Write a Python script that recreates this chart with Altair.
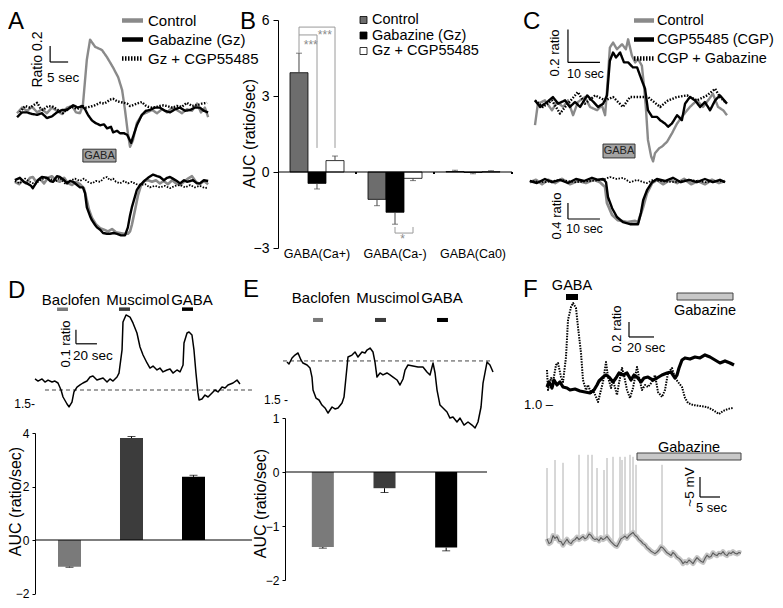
import altair as alt
import pandas as pd

FONT = "Liberation Sans"
M = 8  # page margin: view origin sits at page (8, 8)

# =================== DATA ===================
# ---- Panel A: ratio change vs time (s) ----
A_SERIES = ["Control", "Gabazine (Gz)", "Gz + CGP55485"]
A_TOP = {
    "Control": [(0,-0.04),(1.4,0.03),(2.8,-0.01),(4.2,0.04),(5.6,-0.03),(6.9,0.01),(8.3,-0.04),(9.7,0.03),(11.1,-0.01),(12.5,-0.05),(13.9,0.03),(15.3,0.05),(16.4,-0.03),(17.5,-0.04),(18.3,0.06),(19.4,0.63),(20.3,0.88),(21.7,0.79),(23.6,0.75),(25.0,0.66),(26.7,0.53),(28.1,0.41),(29.2,0.25),(30.0,0.0),(30.8,-0.29),(31.4,-0.46),(32.2,-0.38),(33.3,-0.16),(34.7,-0.06),(36.1,-0.03),(37.5,0.0),(38.9,-0.04),(40.3,0.01),(41.7,-0.03),(43.1,0.03),(44.4,0.0),(45.8,-0.04),(47.2,0.01),(48.6,-0.01),(50.0,0.08),(51.1,-0.03),(52.2,0.03),(53.1,-0.09)],
    "Gabazine (Gz)": [(0,-0.09),(1.4,-0.03),(2.8,-0.03),(4.2,-0.05),(5.6,-0.06),(6.9,-0.04),(8.3,-0.10),(9.7,-0.08),(11.1,-0.03),(12.5,0.0),(13.9,0.0),(15.6,0.06),(16.9,0.03),(18.1,0.05),(18.9,0.01),(19.7,-0.06),(20.8,-0.13),(21.7,-0.16),(23.1,-0.19),(24.2,-0.18),(25.0,-0.23),(26.1,-0.21),(26.7,-0.28),(27.8,-0.26),(28.6,-0.29),(29.7,-0.29),(30.6,-0.31),(31.7,-0.41),(32.2,-0.34),(33.3,-0.19),(34.7,-0.06),(35.8,-0.01),(36.9,0.0),(38.3,0.03),(39.7,0.03),(41.1,-0.01),(42.5,-0.03),(43.9,0.01),(45.3,0.03),(46.7,-0.01),(48.1,0.0),(49.4,0.03),(50.8,0.03),(51.9,-0.01),(53.1,-0.03)],
    "Gz + CGP55485": [(0.8,-0.03),(2.2,0.05),(3.6,0.03),(5.6,0.09),(6.4,0.03),(7.2,0.0),(8.6,0.05),(10.0,0.04),(11.4,0.0),(12.8,-0.04),(13.6,0.0),(15.3,0.04),(16.7,0.01),(18.1,0.05),(19.2,0.03),(20.3,0.04),(21.7,0.06),(23.1,0.09),(24.2,0.08),(25.0,0.10),(25.8,0.13),(26.7,0.14),(27.8,0.11),(28.6,0.10),(29.7,0.09),(30.6,0.08),(31.4,0.05),(32.2,0.06),(33.3,0.08),(34.7,0.10),(35.6,0.06),(36.4,0.04),(37.5,0.03),(38.9,0.04),(40.3,0.06),(41.7,0.05),(43.1,0.03),(44.4,0.05),(45.8,0.04),(47.2,0.09),(48.6,0.05),(50.0,0.06),(51.4,0.08),(52.8,0.09)],
}
A_BOT = {
    "Control": [(-0.6,-0.01),(0.6,-0.04),(1.4,0.01),(2.5,-0.03),(3.6,0.04),(4.4,0.05),(5.3,-0.01),(6.4,0.03),(7.5,-0.03),(8.6,0.04),(9.7,0.06),(10.8,0.01),(11.9,-0.01),(13.1,0.04),(14.2,-0.03),(15.3,-0.05),(16.4,-0.01),(17.5,-0.04),(18.6,-0.09),(19.2,-0.20),(20.0,-0.36),(20.8,-0.46),(21.9,-0.54),(23.1,-0.59),(24.2,-0.61),(25.3,-0.63),(26.4,-0.60),(27.5,-0.64),(28.6,-0.65),(29.7,-0.66),(30.8,-0.66),(31.4,-0.63),(31.9,-0.55),(32.8,-0.36),(33.6,-0.18),(34.4,-0.06),(35.3,0.0),(36.4,0.01),(37.5,-0.01),(38.6,0.01),(39.7,-0.03),(40.8,0.0),(41.9,-0.04),(43.1,0.01),(44.2,-0.03),(45.3,-0.05),(46.4,-0.01),(47.5,0.03),(48.6,0.06),(49.7,-0.01),(50.8,-0.04),(51.9,0.0),(53.1,-0.04)],
    "Gabazine (Gz)": [(-0.6,0.01),(0.8,0.04),(1.9,-0.01),(2.8,-0.03),(3.9,-0.06),(4.4,-0.09),(5.8,0.01),(6.9,0.05),(8.3,0.04),(9.2,0.0),(10.0,-0.01),(11.1,0.06),(11.9,0.05),(13.1,0.01),(13.9,-0.03),(14.7,0.0),(15.6,-0.01),(16.7,-0.05),(17.5,-0.08),(18.3,-0.08),(18.9,-0.15),(19.4,-0.33),(20.3,-0.44),(20.8,-0.49),(21.7,-0.55),(22.2,-0.58),(23.1,-0.61),(23.9,-0.65),(25.0,-0.66),(25.8,-0.66),(26.9,-0.65),(27.8,-0.66),(28.9,-0.68),(30.0,-0.68),(30.8,-0.58),(31.4,-0.43),(31.9,-0.33),(32.8,-0.19),(33.3,-0.11),(34.2,-0.05),(34.7,-0.03),(35.6,0.01),(36.4,0.04),(37.8,0.08),(38.9,0.06),(39.7,0.05),(40.8,0.01),(41.7,0.04),(42.5,0.05),(43.3,0.03),(44.4,0.0),(45.3,-0.03),(46.4,0.01),(47.2,-0.01),(48.1,0.0),(48.9,0.01),(50.0,-0.03),(50.8,-0.03),(51.9,0.01),(53.1,0.0)],
    "Gz + CGP55485": [(-0.6,0.0),(0.8,-0.03),(2.2,0.03),(3.6,-0.01),(5.0,-0.04),(6.4,0.01),(7.8,0.04),(9.2,0.03),(10.6,-0.01),(11.9,0.04),(13.3,-0.03),(14.7,0.0),(16.1,0.03),(17.5,0.0),(18.6,0.03),(19.7,-0.01),(20.8,-0.03),(21.9,0.0),(23.1,-0.01),(24.2,0.04),(25.0,0.05),(25.8,0.01),(26.7,0.03),(27.5,-0.01),(28.6,-0.03),(29.7,0.0),(30.8,-0.03),(31.9,-0.01),(33.1,-0.04),(34.2,-0.05),(35.6,-0.04),(36.9,-0.08),(38.3,-0.06),(39.7,-0.08),(41.1,-0.06),(42.5,-0.09),(43.9,-0.06),(45.3,-0.05),(46.7,-0.08),(48.1,-0.05),(49.4,-0.08),(50.8,-0.06),(52.2,-0.09),(53.1,-0.08)],
}
A_GABA = (18.3, 27.5)          # GABA application (s)
A_SCALE = (9.2, 0.6, 5, 0.2)   # scale bar origin (s, ratio), 5 sec, 0.2 ratio

# ---- Panel B: AUC (ratio/sec) ----
B_CATS = ["GABA(Ca+)", "GABA(Ca-)", "GABA(Ca0)"]
B_CONDS = ["Control", "Gabazine (Gz)", "Gz + CGP55485"]
B_MEAN = {"Control": [3.92, -1.08, 0.02], "Gabazine (Gz)": [-0.45, -1.59, -0.02], "Gz + CGP55485": [0.45, -0.25, 0.01]}
B_ERR = {"Control": [4.69, -1.33, 0.07], "Gabazine (Gz)": [-0.67, -2.06, -0.07], "Gz + CGP55485": [0.63, -0.34, 0.05]}
B_TICKS = [6, 3, 0, -3]
# significance brackets: (category, cond1, cond2, y_start1, y_bar, y_end2, label, label_x, label_y)
B_SIG = [
    ("GABA(Ca+)", "Control", "Gabazine (Gz)", 4.70, 5.41, 0.95, "***", 0.42, 4.87),
    ("GABA(Ca+)", "Control", "Gz + CGP55485", 5.41, 5.72, 0.95, "***", 0.60, 5.26),
    ("GABA(Ca-)", "Gabazine (Gz)", "Gz + CGP55485", -2.17, -2.41, -2.17, "*", 1.596, -2.80),
]

# ---- Panel C ----
C_SERIES = ["Control", "CGP55485 (CGP)", "CGP + Gabazine"]
C_TOP = {
    "Control": [(0,-0.14),(0.9,-0.01),(3.1,0.01),(5.3,-0.05),(6.9,0.0),(8.8,-0.03),(10.3,0.01),(11.9,-0.08),(13.4,0.0),(15.6,0.03),(17.2,-0.03),(19.4,-0.05),(20.9,-0.02),(21.9,-0.08),(22.5,0.07),(23.4,0.33),(24.4,0.36),(25.6,0.32),(27.2,0.35),(28.4,0.32),(29.1,0.38),(30.3,0.28),(31.3,0.24),(32.2,0.26),(33.4,0.22),(34.1,0.09),(34.7,-0.05),(35.3,-0.23),(36.3,-0.33),(36.9,-0.36),(37.5,-0.31),(38.8,-0.28),(39.7,-0.27),(41.3,-0.24),(42.8,-0.19),(44.4,-0.13),(46.3,-0.08),(48.4,-0.03),(50.6,0.01),(52.5,-0.03),(54.1,0.01),(55.6,0.05),(57.2,-0.03),(58.8,-0.05),(60.0,-0.08)],
    "CGP55485 (CGP)": [(0,0.01),(1.6,-0.03),(3.8,0.0),(5.6,0.03),(7.2,-0.01),(9.4,0.01),(10.9,-0.03),(12.5,0.0),(14.1,-0.03),(16.3,0.04),(17.8,0.01),(19.7,-0.03),(21.3,-0.01),(22.5,0.04),(23.4,0.25),(24.4,0.30),(25.3,0.27),(26.6,0.30),(27.8,0.24),(29.1,0.24),(30.6,0.21),(31.9,0.21),(33.4,0.13),(34.4,0.08),(35.3,-0.05),(36.6,-0.09),(38.1,-0.09),(39.1,-0.11),(40.6,-0.13),(41.6,-0.15),(42.8,-0.13),(44.4,-0.08),(45.9,-0.11),(46.9,-0.01),(48.4,0.03),(50.0,0.01),(51.6,-0.03),(53.1,0.0),(54.7,-0.05),(56.3,0.01),(57.8,0.04),(59.1,0.01),(60.0,-0.01)],
    "CGP + Gabazine": [(0,0.01),(2.5,-0.03),(5.3,0.01),(7.8,-0.07),(10.3,-0.01),(13.4,0.06),(15.6,-0.01),(18.8,0.04),(21.9,0.01),(24.4,0.03),(27.5,-0.03),(29.7,0.03),(32.2,0.03),(35.3,0.03),(39.1,-0.03),(41.6,0.01),(44.4,0.03),(47.5,0.04),(50.6,0.01),(53.8,0.04),(56.3,0.08),(57.8,0.03),(59.4,0.0)],
}
C_BOT = {
    "Control": [(-1.6,-0.03),(0.3,0.03),(2.2,-0.08),(4.1,0.03),(6.3,-0.05),(8.4,0.05),(10.9,-0.08),(13.4,0.0),(15.9,-0.05),(18.4,0.03),(20.3,-0.03),(21.9,-0.15),(22.5,-0.55),(24.1,-0.85),(25.9,-0.98),(28.8,-1.03),(31.3,-1.0),(32.2,-1.03),(33.8,-0.65),(35.0,-0.30),(36.6,-0.05),(38.1,0.03),(40.0,-0.08),(42.2,0.03),(44.4,-0.05),(46.6,0.05),(48.8,-0.08),(50.9,0.0),(53.1,-0.08),(55.3,0.03),(57.5,-0.05),(59.4,0.0)],
    "CGP55485 (CGP)": [(-1.6,0.0),(0.6,-0.05),(3.1,0.05),(5.3,-0.03),(7.8,0.03),(10.3,-0.05),(12.8,0.05),(15.3,0.0),(17.8,0.08),(19.7,0.03),(21.3,0.05),(22.2,-0.03),(22.8,-0.40),(24.1,-0.68),(25.6,-0.90),(27.5,-1.03),(29.7,-1.08),(32.2,-1.08),(33.1,-0.80),(33.8,-0.48),(35.0,-0.23),(36.6,-0.03),(38.1,0.05),(40.6,0.0),(43.1,0.08),(45.6,-0.03),(48.1,0.03),(50.6,-0.03),(53.1,0.05),(55.6,-0.03),(57.8,0.03),(59.4,-0.03)],
    "CGP + Gabazine": [(-1.6,0.0),(3.1,-0.03),(7.8,0.03),(12.5,-0.03),(17.2,0.0),(21.3,0.03),(23.4,0.10),(25.6,0.05),(27.5,0.08),(29.7,-0.03),(31.9,0.03),(33.8,-0.03),(35.0,-0.05),(36.9,0.03),(39.1,0.0),(43.8,-0.03),(48.4,0.03),(53.1,-0.03),(57.8,0.0),(59.4,-0.03)],
}
C_GABA = (21.25, 31.25)

# ---- Panels D and E ----
DRUGS = ["Baclofen", "Muscimol", "GABA"]
D_TRACE = [(0,1.679),(2.9,1.664),(6.7,1.679),(9.5,1.657),(12.4,1.671),(16.2,1.657),(19.0,1.664),(21.9,1.65),(24.8,1.6),(26.7,1.55),(30.5,1.5),(32.4,1.479),(35.2,1.514),(37.1,1.586),(40.0,1.621),(42.9,1.636),(45.7,1.65),(49.5,1.664),(52.4,1.693),(55.2,1.7),(59.0,1.671),(61.9,1.679),(64.8,1.686),(68.6,1.657),(71.4,1.679),(74.3,1.664),(78.1,1.693),(80.0,1.721),(82.9,1.886),(83.8,2.086),(86.7,2.136),(90.5,2.121),(93.3,2.079),(97.1,2.007),(100.0,1.907),(102.9,1.85),(106.7,1.793),(109.5,1.757),(112.4,1.771),(116.2,1.743),(119.0,1.757),(121.9,1.729),(125.7,1.743),(128.6,1.75),(131.4,1.721),(135.2,1.743),(138.1,1.729),(141.0,1.779),(141.9,1.936),(144.8,2.007),(146.7,2.014),(149.5,1.993),(151.4,1.886),(153.3,1.721),(155.2,1.579),(156.2,1.529),(159.0,1.536),(161.9,1.564),(164.8,1.55),(168.6,1.579),(171.4,1.6),(174.3,1.586),(178.1,1.621),(181.0,1.614),(183.8,1.636),(188.6,1.65),(192.4,1.671),(195.2,1.643)]
D_BASELINE = (9.5, 209.5, 1.6)
D_APPLY = [(21.0, 31.4), (80.0, 90.5), (140.0, 150.5)]
D_LABEL_T = [34.3, 98.1, 149.5]
D_AUC = [-1.0, 3.81, 2.36]
D_AUC_ERR = [-1.02, 3.87, 2.42]

E_TRACE = [(1.9,1.771),(3.8,1.757),(6.7,1.8),(9.5,1.821),(12.4,1.836),(15.2,1.786),(17.1,1.764),(21.0,1.75),(23.8,1.729),(25.7,1.664),(26.7,1.571),(29.5,1.514),(32.4,1.5),(35.2,1.464),(38.1,1.443),(41.0,1.407),(44.8,1.45),(47.6,1.436),(50.5,1.443),(54.3,1.479),(56.2,1.521),(58.1,1.664),(60.0,1.807),(63.8,1.821),(66.7,1.843),(69.5,1.807),(73.3,1.843),(76.2,1.836),(78.1,1.857),(81.0,1.871),(83.8,1.843),(85.7,1.771),(87.6,1.664),(90.5,1.693),(93.3,1.679),(97.1,1.693),(100.0,1.679),(102.9,1.664),(106.7,1.643),(109.5,1.607),(112.4,1.65),(114.3,1.714),(117.1,1.75),(121.9,1.743),(126.7,1.736),(131.4,1.736),(135.2,1.7),(138.1,1.679),(141.0,1.764),(142.9,1.693),(144.8,1.571),(147.6,1.464),(150.5,1.443),(154.3,1.414),(157.1,1.371),(160.0,1.379),(163.8,1.343),(166.7,1.371),(170.5,1.321),(174.3,1.343),(178.1,1.321),(181.0,1.3),(183.8,1.343),(186.7,1.45),(188.6,1.621),(192.4,1.771),(195.2,1.75),(198.1,1.7)]
E_BASELINE = (-1.9, 197.1, 1.779)
E_APPLY = [(26.7, 36.2), (85.7, 96.2), (144.8, 155.2)]
E_LABEL_T = [34.3, 98.1, 149.5]
E_AUC = [-1.39, -0.30, -1.40]
E_AUC_ERR = [-1.41, -0.38, -1.46]

# ---- Panel F ----
F_SOLID = [(0,1.24),(1.6,1.307),(4.0,1.227),(5.6,1.333),(8.0,1.267),(10.4,1.307),(12.8,1.24),(16.0,1.227),(18.4,1.2),(22.4,1.213),(26.4,1.187),(30.4,1.173),(34.4,1.16),(37.6,1.2),(40.0,1.267),(41.6,1.32),(44.8,1.373),(47.2,1.4),(49.6,1.373),(52.8,1.307),(55.2,1.36),(57.6,1.427),(60.8,1.4),(64.0,1.427),(67.2,1.333),(69.6,1.4),(72.0,1.373),(75.2,1.307),(77.6,1.36),(80.8,1.373),(84.8,1.333),(88.0,1.36),(92.0,1.4),(96.0,1.427),(99.2,1.44),(102.4,1.36),(104.0,1.4),(105.6,1.493),(108.0,1.6),(110.4,1.627),(114.4,1.613),(118.4,1.64),(122.4,1.627),(126.4,1.667),(130.4,1.64),(134.4,1.6),(138.4,1.56),(142.4,1.587),(146.4,1.56),(149.6,1.533)]
F_DOTTED = [(0,1.467),(0.8,1.2),(3.2,1.36),(4.8,1.307),(7.2,1.533),(8.8,1.56),(11.2,1.373),(12.8,1.307),(15.2,1.64),(16.8,2.133),(19.2,2.307),(20.8,2.36),(23.2,2.293),(24.8,2.04),(27.2,1.693),(28.8,1.333),(31.2,1.2),(32.8,1.267),(35.2,1.16),(36.8,1.2),(39.2,1.107),(40.8,1.04),(43.2,1.2),(44.8,1.307),(47.2,1.573),(48.8,1.373),(51.2,1.227),(52.8,1.333),(56.0,1.133),(57.6,1.293),(60.0,1.493),(61.6,1.4),(64.0,1.2),(66.4,1.093),(68.8,1.227),(72.0,1.507),(73.6,1.373),(76.0,1.2),(78.4,1.267),(80.8,1.24),(84.0,1.307),(86.4,1.4),(88.8,1.173),(92.0,1.107),(94.4,1.2),(96.8,1.427),(100.0,1.493),(102.4,1.36),(104.8,1.307),(108.0,1.24),(110.4,1.093),(112.8,1.027),(116.8,1.0),(122.4,0.987),(128.0,0.973),(132.8,0.933),(137.6,0.88),(140.8,0.92),(144.8,0.947),(148.8,0.96)]
F_GABA = (15.2, 24.8)
F_GBZ = (104.0, 148.8)
# membrane potential (mV, relative), sampled every 0.5 s
F_VM_DT = 0.5
F_VM = [0.3,-0.9,-0.6,1.1,0.4,0.8,-0.3,-0.4,-1.3,-0.5,0.2,-0.6,-0.9,-0.2,0.1,0.7,0.1,0.5,0.9,0.3,0.6,1.5,1.2,0.4,0.1,0.3,-0.2,0.6,0.1,0.4,0.9,0.2,-0.4,-0.9,-1.4,-1.6,-0.7,0.3,0.6,1.0,0.4,1.1,1.5,1.9,1.2,0.8,0.1,-0.3,-0.9,-1.2,-1.9,-2.3,-2.8,-3.1,-3.4,-3.0,-2.5,-1.7,-2.0,-2.6,-3.2,-3.5,-3.9,-3.1,-3.6,-4.3,-4.6,-5.1,-5.9,-5.4,-5.7,-5.0,-5.4,-5.9,-5.1,-4.4,-4.9,-5.3,-5.6,-4.6,-3.8,-4.3,-4.1,-3.2,-3.7,-3.9,-3.3,-3.5,-2.9,-3.6,-3.9,-3.2,-3.4,-2.9,-3.3,-3.5,-3.1,-3.3]
# spikes: (time s, base mV, peak mV)
F_SPIKES = [(0.0,0.3,18.0),(2.0,0.4,20.0),(4.0,-1.3,19.3),(8.0,0.1,21.3),(10.25,1.5,21.3),(11.25,0.4,21.3),(12.5,0.3,18.0),(14.25,0.6,17.5),(15.0,0.9,20.5),(16.5,-0.9,20.8),(18.25,0.3,20.8),(18.75,0.6,20.0),(19.5,1.0,20.8),(20.75,1.1,21.3),(21.5,1.9,20.8),(22.25,0.8,18.8),(28.75,-2.0,18.8)]
F_GBZ2 = (22.5, 48.5)

# =================== LAYOUT FRAMES (domain -> page pixels) ===================
FR = {
    "A_top": ((0, 54), (17, 211.4), (-0.7, 1.0), (166, 30)),
    "A_bot": ((0, 54), (17, 211.4), (-0.8, 0.2), (245, 165)),
    "B_q":   ((0, 3), (278, 512), (-3, 6), (248, 20)),
    "C_top": ((0, 60), (535, 727), (-0.4, 0.45), (168, 27.75)),
    "C_bot": ((0, 60), (535, 727), (-1.2, 0.2), (229, 173)),
    "D_tr":  ((0, 210), (35, 255.5), (1.45, 2.2), (411, 306)),
    "D_ax":  ((0, 1), (35, 252), (-2, 4), (593.5, 433)),
    "E_tr":  ((0, 210), (285, 505.5), (1.25, 1.9), (435, 344)),
    "E_ax":  ((0, 1), (285, 487), (-2, 1), (580, 418)),
    "F_top": ((0, 150), (547, 734.5), (0.85, 2.5), (416.25, 292.5)),
    "F_bot": ((0, 50), (547, 747), (-8, 23), (572, 448)),
}
GRAY = "#8a8a8a"
DRUG_COLORS = ["#7a7a7a", "#3c3c3c", "#000000"]


def sc(dom, px):
    return alt.Scale(domain=list(dom), range=[px[0] - M, px[1] - M], nice=False, zero=False)


def fx(f, field="t"):
    d = FR[f]
    return alt.X(f"{field}:Q", scale=sc(d[0], d[1]), axis=None)


def fy(f, field="r", axis=None):
    d = FR[f]
    return alt.Y(f"{field}:Q", scale=sc(d[2], d[3]), axis=axis)


def df_pairs(pairs):
    return pd.DataFrame(pairs, columns=["t", "r"])


def trace(pairs, f, color, width, dash=None):
    kw = dict(color=color, strokeWidth=width, strokeJoin="round")
    if dash:
        kw["strokeDash"] = dash
    return alt.Chart(df_pairs(pairs)).mark_line(**kw).encode(x=fx(f), y=fy(f))


def segs(rows, f, color="black", width=1.2, dash=None):
    d = pd.DataFrame(rows, columns=["t", "t2", "r", "r2"])
    kw = dict(color=color, strokeWidth=width)
    if dash:
        kw["strokeDash"] = dash
    return alt.Chart(d).mark_rule(**kw).encode(x=fx(f), x2="t2:Q", y=fy(f), y2="r2:Q")


def rects(rows, f, fill, stroke=None, width=1.0):
    d = pd.DataFrame(rows, columns=["t", "t2", "r", "r2"])
    kw = dict(fill=fill)
    if stroke:
        kw.update(stroke=stroke, strokeWidth=width)
    return alt.Chart(d).mark_rect(**kw).encode(x=fx(f), x2="t2:Q", y=fy(f), y2="r2:Q")


def texts(rows, f, size, align="left", baseline="alphabetic", angle=0, color="black"):
    d = pd.DataFrame(rows, columns=["t", "r", "label"])
    kw = dict(fontSize=size, align=align, baseline=baseline, color=color)
    if angle:
        kw["angle"] = angle
    return alt.Chart(d).mark_text(**kw).encode(x=fx(f), y=fy(f), text="label:N")


def scalebar(f, t0, r0, dt, dr):
    return segs([(t0, t0, r0, r0 + dr), (t0, t0 + dt, r0, r0)], f, width=1.2)


def letter(ch, px, py):
    return alt.Chart(pd.DataFrame({"l": [ch]})).mark_text(
        fontSize=24, align="left", baseline="alphabetic").encode(
        x=alt.value(px - M), y=alt.value(py - M), text="l:N")


def series_df(d, order):
    rows = []
    for s in order:
        for t, r in d[s]:
            rows.append({"s": s, "t": t, "r": r})
    return pd.DataFrame(rows)


def line_legend(domain, lx, ly, half, label_offset, size=15):
    return alt.Legend(orient="none", legendX=lx, legendY=ly, title=None,
                      symbolType=f"M-{half},0H{half}", symbolSize=100,
                      symbolStrokeWidth=4.5, labelFontSize=size, labelOffset=label_offset,
                      rowPadding=0, padding=0, symbolOffset=0, labelLimit=400,
                      labelColor="black", labelFont=FONT)


layers = []

# =================== PANEL A ===================
legA = line_legend(A_SERIES, 117, 5, 2.1, 8)
layers.append(
    alt.Chart(series_df(A_TOP, A_SERIES)).mark_line(strokeWidth=2.4, strokeJoin="round").encode(
        x=fx("A_top"), y=fy("A_top"),
        color=alt.Color("s:N", scale=alt.Scale(domain=A_SERIES, range=[GRAY, "black", "black"]), legend=legA),
        strokeDash=alt.StrokeDash("s:N", scale=alt.Scale(domain=A_SERIES, range=[[1, 0], [1, 0], [1.5, 1.5]]), legend=legA),
        detail="s:N",
    )
)
layers.append(trace(A_BOT["Control"], "A_bot", GRAY, 2.6))
layers.append(trace(A_BOT["Gabazine (Gz)"], "A_bot", "black", 2.4))
layers.append(trace(A_BOT["Gz + CGP55485"], "A_bot", "black", 1.8, [1.5, 1.5]))
layers.append(rects([(A_GABA[0], A_GABA[1], -0.49, -0.65)], "A_top", "#a3a3a3", "#333333", 1))
layers.append(texts([((A_GABA[0] + A_GABA[1]) / 2, -0.57, "GABA")], "A_top", 11, "center", "middle", color="#222222"))
layers.append(scalebar("A_top", *A_SCALE))
layers.append(texts([(5.83, 0.631, "Ratio 0.2")], "A_top", 14, "center", "middle", angle=270))
layers.append(texts([(8.33, 0.35, "5 sec")], "A_top", 13.5))

# =================== PANEL B ===================
bdf = pd.DataFrame([{"cat": c, "cond": k, "mean": B_MEAN[k][i], "err": B_ERR[k][i]}
                    for k in B_CONDS for i, c in enumerate(B_CATS)])
bx = alt.X("cat:N", scale=alt.Scale(domain=B_CATS, range=[278 - M, 512 - M],
                                    paddingInner=0.3077, paddingOuter=0.1538), axis=None)
bxo = alt.XOffset("cond:N", scale=alt.Scale(domain=B_CONDS, paddingInner=0, paddingOuter=0))
b_ys = sc(FR["B_q"][2], FR["B_q"][3])
b_axis = alt.Axis(orient="left", offset=-(278 - M), values=B_TICKS, tickSize=5, labelPadding=4,
                  labelFontSize=14, grid=False, domainColor="black", tickColor="black",
                  labelColor="black", title="AUC (ratio/sec)", titleFontSize=16,
                  titleFontWeight="normal", titleColor="black", titleX=-29, titleY=125,
                  titleBaseline="middle", titleAngle=270)
legB = alt.Legend(orient="none", legendX=348.25, legendY=4.75, title=None, symbolType="square",
                  symbolSize=49, symbolStrokeColor="black", symbolStrokeWidth=0.8,
                  labelFontSize=14.5, labelOffset=1.25, rowPadding=0.5, padding=0,
                  symbolOffset=0, labelColor="black", labelFont=FONT, labelLimit=400)
layers.append(
    alt.Chart(bdf).mark_bar(stroke="black", strokeWidth=0.8).encode(
        x=bx, xOffset=bxo,
        y=alt.Y("mean:Q", scale=b_ys, axis=b_axis), y2=alt.datum(0),
        fill=alt.Fill("cond:N", scale=alt.Scale(domain=B_CONDS, range=["#6d6d6d", "#000000", "#ffffff"]), legend=legB),
    )
)
layers.append(alt.Chart(bdf).mark_rule(color="#444444", strokeWidth=1).encode(
    x=bx, xOffset=bxo, y=alt.Y("mean:Q", scale=b_ys, axis=None), y2="err:Q"))
layers.append(alt.Chart(bdf).mark_tick(color="#444444", thickness=1, size=6, orient="horizontal").encode(
    x=bx, xOffset=bxo, y=alt.Y("err:Q", scale=b_ys, axis=None)))
# zero line and small x ticks
layers.append(segs([(0, 3, 0, 0)], "B_q", width=1))
layers.append(segs([(i, i, 0, -0.08) for i in (1, 2, 3)], "B_q", width=2))
# category labels
layers.append(alt.Chart(pd.DataFrame({"cat": B_CATS, "ly": [-3] * 3})).mark_text(
    fontSize=12.5, baseline="alphabetic", dy=10).encode(
    x=bx, y=alt.Y("ly:Q", scale=b_ys, axis=None), text="cat:N"))


# significance brackets (x in category units)
def bar_center(cat, cond):
    return B_CATS.index(cat) + 0.5 + (B_CONDS.index(cond) - 1) * 18 / 78


sig_rows, star_rows = [], []
for cat, c1, c2, y1, yb, y2, lab, lx, ly in B_SIG:
    x1, x2 = bar_center(cat, c1), bar_center(cat, c2)
    sig_rows += [(x1, x1, y1, yb), (x1, x2, yb, yb), (x2, x2, yb, y2)]
    star_rows.append((lx, ly, lab))
layers.append(segs(sig_rows, "B_q", color="#9a9a9a", width=1))
layers.append(texts(star_rows, "B_q", 12, "center", "alphabetic", color="#8a8a8a"))

# =================== PANEL C ===================
legC = line_legend(C_SERIES, 628.5, 5, 2.0, 5.5, 14.5)
layers.append(
    alt.Chart(series_df(C_TOP, C_SERIES)).mark_line(strokeWidth=2.4, strokeJoin="round").encode(
        x=fx("C_top"), y=fy("C_top"),
        color=alt.Color("s:N", scale=alt.Scale(domain=C_SERIES, range=[GRAY, "black", "black"]), legend=legC),
        strokeDash=alt.StrokeDash("s:N", scale=alt.Scale(domain=C_SERIES, range=[[1, 0], [1, 0], [1.5, 1.5]]), legend=legC),
        detail="s:N",
    )
)
layers.append(trace(C_BOT["Control"], "C_bot", GRAY, 2.8))
layers.append(trace(C_BOT["CGP55485 (CGP)"], "C_bot", "black", 2.4))
layers.append(trace(C_BOT["CGP + Gabazine"], "C_bot", "black", 1.8, [1.5, 1.5]))
layers.append(rects([(C_GABA[0], C_GABA[1], -0.255, -0.339)], "C_top", "#a3a3a3", "#333333", 1))
layers.append(texts([((C_GABA[0] + C_GABA[1]) / 2, -0.297, "GABA")], "C_top", 11, "center", "middle", color="#222222"))
layers.append(scalebar("C_top", 10.3, 0.24, 10, 0.2))
layers.append(texts([(6.4, 0.297, "0.2 ratio")], "C_top", 13, "center", "middle", angle=270))
layers.append(texts([(10.0, 0.145, "10 sec")], "C_top", 12.5))
layers.append(scalebar("C_bot", 10.3, -0.95, 10, 0.4))
layers.append(texts([(7.0, -0.875, "0.4 ratio")], "C_bot", 13, "center", "middle", angle=270))
layers.append(texts([(9.7, -1.3, "10 sec")], "C_bot", 12.5))


# =================== PANELS D & E ===================
def drug_panel(tr_frame, ax_frame, trace_pts, baseline, apply, label_t, label_r, apply_r,
               tick_label, tick_t, auc, auc_err, band_px, pin, pout, ax_px, ticks, title_x, title_y):
    out = []
    out.append(segs([(baseline[0], baseline[1], baseline[2], baseline[2])], tr_frame,
                    color="#444444", width=1, dash=[4, 3]))
    out.append(trace(trace_pts, tr_frame, "black", 1.5))
    ap = pd.DataFrame({"drug": DRUGS, "t": [a[0] for a in apply], "t2": [a[1] for a in apply],
                       "r": [apply_r[0]] * 3, "r2": [apply_r[1]] * 3})
    out.append(alt.Chart(ap).mark_rect().encode(
        x=fx(tr_frame), x2="t2:Q", y=fy(tr_frame), y2="r2:Q",
        fill=alt.Fill("drug:N", scale=alt.Scale(domain=DRUGS, range=DRUG_COLORS), legend=None)))
    out.append(texts([(t, label_r, d) for t, d in zip(label_t, DRUGS)], tr_frame, 15, "center"))
    out.append(texts([(tick_t, 1.5, tick_label)], tr_frame, 12, "right", "middle"))
    # AUC bars
    adf = pd.DataFrame({"drug": DRUGS, "auc": auc, "err": auc_err})
    ax = alt.X("drug:N", scale=alt.Scale(domain=DRUGS, range=[band_px[0] - M, band_px[1] - M],
                                          paddingInner=pin, paddingOuter=pout), axis=None)
    ys = sc(FR[ax_frame][2], FR[ax_frame][3])
    axis = alt.Axis(orient="left", offset=-(ax_px - M), values=ticks, tickSize=3, labelPadding=3,
                    labelFontSize=12, grid=False, domainColor="black", tickColor="black",
                    labelColor="black", title="AUC (ratio/sec)", titleFontSize=16,
                    titleFontWeight="normal", titleColor="black", titleX=title_x,
                    titleY=title_y - M, titleBaseline="middle", titleAngle=270)
    out.append(alt.Chart(adf).mark_bar().encode(
        x=ax, y=alt.Y("auc:Q", scale=ys, axis=axis), y2=alt.datum(0),
        fill=alt.Fill("drug:N", scale=alt.Scale(domain=DRUGS, range=DRUG_COLORS), legend=None)))
    out.append(alt.Chart(adf).mark_rule(color="black", strokeWidth=1).encode(
        x=ax, y=alt.Y("auc:Q", scale=ys, axis=None), y2="err:Q"))
    out.append(alt.Chart(adf).mark_tick(color="black", thickness=1, size=8, orient="horizontal").encode(
        x=ax, y=alt.Y("err:Q", scale=ys, axis=None)))
    out.append(segs([(0, 1, 0, 0)], ax_frame, width=1.2))
    return out


layers += drug_panel("D_tr", "D_ax", D_TRACE, D_BASELINE, D_APPLY, D_LABEL_T, 2.207, (2.165, 2.19),
                     "1.5-", 0, D_AUC, D_AUC_ERR, (38.5, 224.5), 0.629, 0.3145, 35, [4, 2, 0, -2], -20, 501)
layers.append(scalebar("D_tr", 39.0, 1.93, 20, 0.1))
layers.append(texts([(29.5, 1.929, "0.1 ratio")], "D_tr", 13, "center", "middle", angle=270))
layers.append(texts([(36.2, 1.814, "20 sec")], "D_tr", 13.5))

layers += drug_panel("E_tr", "E_ax", E_TRACE, E_BASELINE, E_APPLY, E_LABEL_T, 2.193, (2.057, 2.086),
                     "1.5 -", 2.9, E_AUC, E_AUC_ERR, (292, 477), 0.643, 0.3215, 285, [1, 0, -1, -2], -25, 503)

# =================== PANEL F ===================
layers.append(trace(F_DOTTED, "F_top", "black", 2.0, [1.5, 1.2]))
layers.append(trace(F_SOLID, "F_top", "black", 3.2))
layers.append(rects([(F_GABA[0], F_GABA[1], 2.4, 2.48)], "F_top", "black"))
layers.append(rects([(F_GBZ[0], F_GBZ[1], 2.4, 2.493)], "F_top", "#c8c8c8", "#444444", 1))
layers.append(texts([((F_GABA[0] + F_GABA[1]) / 2, 2.533, "GABA")], "F_top", 14.5, "center"))
layers.append(texts([((F_GBZ[0] + F_GBZ[1]) / 2, 2.2, "Gabazine")], "F_top", 14.5, "center"))
layers.append(scalebar("F_top", 65.6, 1.907, 20, 0.2))
layers.append(texts([(56.0, 2.013, "0.2 ratio")], "F_top", 13, "center", "middle", angle=270))
layers.append(texts([(64.0, 1.707, "20 sec")], "F_top", 13))
layers.append(texts([(4.8, 1.0, "1.0 \u2013")], "F_top", 13, "right", "middle"))

vm = pd.DataFrame({"t": [i * F_VM_DT for i in range(len(F_VM))], "r": F_VM})
sp = pd.DataFrame(F_SPIKES, columns=["t", "r", "r2"])
layers.append(alt.Chart(sp).mark_rule(color="#b0b0b0", strokeWidth=1).encode(
    x=fx("F_bot"), y=fy("F_bot"), y2="r2:Q"))
layers.append(alt.Chart(vm).mark_line(color="#c4c4c4", strokeWidth=5, strokeJoin="round").encode(
    x=fx("F_bot"), y=fy("F_bot")))
layers.append(alt.Chart(vm).mark_line(color="#5a5a5a", strokeWidth=1.1, strokeJoin="round").encode(
    x=fx("F_bot"), y=fy("F_bot")))
layers.append(rects([(F_GBZ2[0], F_GBZ2[1], 20.0, 21.75)], "F_bot", "#c8c8c8", "#444444", 1))
layers.append(texts([((F_GBZ2[0] + F_GBZ2[1]) / 2, 22.0, "Gabazine")], "F_bot", 14.5, "center"))
layers.append(scalebar("F_bot", 38.25, 10.75, 5, 5))
layers.append(texts([(35.75, 13.25, "~5 mV")], "F_bot", 13.5, "center", "middle", angle=270))
layers.append(texts([(37.25, 7.0, "5 sec")], "F_bot", 13))

# =================== PANEL LETTERS ===================
for ch, px, py in [("A", 8, 29), ("B", 240, 29), ("C", 523, 29), ("D", 8, 298), ("E", 243, 297), ("F", 523, 297)]:
    layers.append(letter(ch, px, py))

chart = alt.layer(*layers).resolve_scale(
    x="independent", y="independent", color="independent", fill="independent",
    strokeDash="independent", xOffset="independent",
).properties(
    width=767, height=592, padding=0, autosize=alt.AutoSizeParams(type="none"),
).configure(font=FONT).configure_view(strokeWidth=0)

chart.save("out.html", embed_options={"renderer": "svg", "actions": False})
